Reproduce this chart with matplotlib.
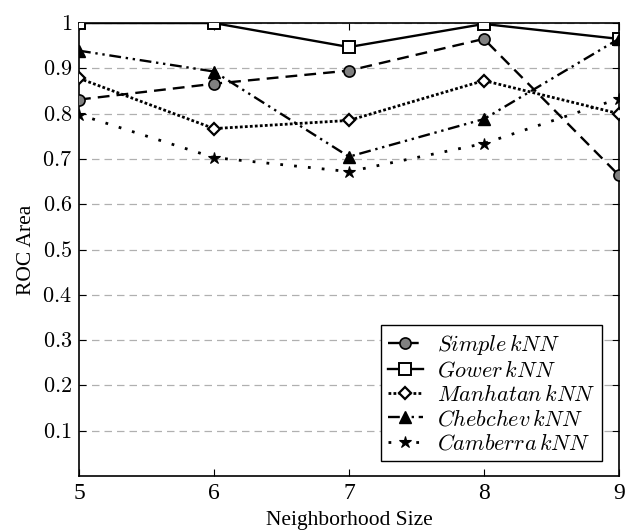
import matplotlib
matplotlib.use("Agg")
import matplotlib.pyplot as plt

plt.rcParams['font.family'] = ['Liberation Serif', 'DejaVu Serif']
plt.rcParams['mathtext.fontset'] = 'cm'

# data
sizes = [5, 6, 7, 8, 9]
simple = [0.831, 0.866, 0.895, 0.965, 0.664]
gower = [1.0, 1.0, 0.947, 0.998, 0.965]
manhattan = [0.878, 0.767, 0.785, 0.873, 0.800]
chebchev = [0.939, 0.893, 0.705, 0.788, 0.965]
camberra = [0.798, 0.703, 0.672, 0.734, 0.833]

labels = [r'$Simple\,kNN$', r'$Gower\,kNN$', r'$Manhatan\,kNN$',
          r'$Chebchev\,kNN$', r'$Camberra\,kNN$']
yticks = [0.1, 0.2, 0.3, 0.4, 0.5, 0.6, 0.7, 0.8, 0.9, 1.0]
ytick_labels = ['$0.1$', '$0.2$', '$0.3$', '$0.4$', '$0.5$', '$0.6$',
                '$0.7$', '$0.8$', '$0.9$', '$1$']

fig = plt.figure(figsize=(6.27, 5.31), dpi=100)
ax = fig.add_axes([0.126, 0.1036, 0.861, 0.853])

lw = 1.7
ax.plot(sizes, simple, color='black', lw=lw, dashes=(5, 3),
        marker='o', ms=8, mfc='#808080', mec='black', mew=1.2, label=labels[0], zorder=3)
ax.plot(sizes, gower, color='black', lw=lw, ls='-',
        marker='s', ms=8, mfc='white', mec='black', mew=1.4, label=labels[1], zorder=3)
ax.plot(sizes, manhattan, color='black', lw=2.0, dashes=(1, 0.8),
        marker='D', ms=6, mfc='white', mec='black', mew=1.6, label=labels[2], zorder=3)
ax.plot(sizes, chebchev, color='black', lw=lw, dashes=(5, 2, 1, 2, 1, 2),
        marker='^', ms=8, mfc='black', mec='black', mew=1.0, label=labels[3], zorder=3)
ax.plot(sizes, camberra, color='black', lw=2.0, dashes=(1, 4),
        marker='*', ms=9, mfc='black', mec='black', mew=0.8, label=labels[4], zorder=3)

ax.set_xlim(5, 9)
ax.set_ylim(0, 1)
ax.set_xticks(sizes)
ax.set_yticks(yticks)
ax.set_yticklabels(ytick_labels)
ax.tick_params(direction='in', top=True, right=True, length=5, width=0.8, pad=5)
ax.tick_params(axis='x', labelsize=17)
ax.tick_params(axis='y', labelsize=16)
ax.grid(axis='y', color='#b0b0b0', ls=(0, (6, 4)), lw=0.9)
for s in ax.spines.values():
    s.set_linewidth(1.2)

ax.set_xlabel('Neighborhood Size', fontsize=15.5, labelpad=5)
ax.set_ylabel('ROC Area', fontsize=15.5, labelpad=4)

leg = ax.legend(loc='lower right', bbox_to_anchor=(0.9685, 0.033), fontsize=16,
                fancybox=False, framealpha=1, edgecolor='black',
                handlelength=1.6, handletextpad=0.6, labelspacing=0.15,
                borderpad=0.3, borderaxespad=0)
leg.get_frame().set_linewidth(1.0)

fig.savefig('out.png', dpi=100)
